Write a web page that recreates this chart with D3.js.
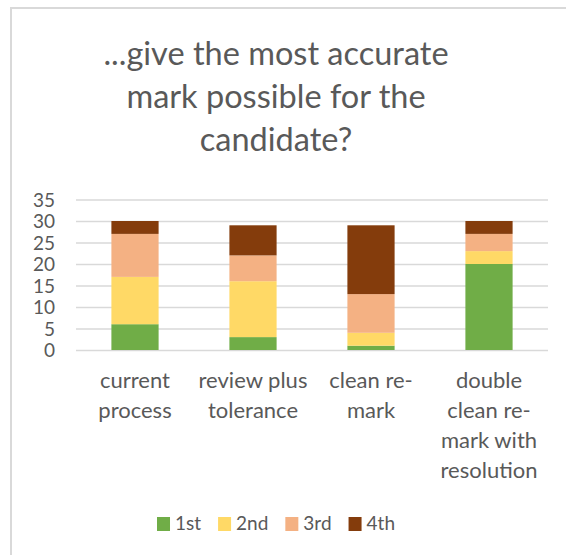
<!DOCTYPE html>
<html>
<head>
<meta charset="utf-8">
<script src="https://cdn.jsdelivr.net/npm/d3@7"></script>
<style>
  html, body { margin: 0; padding: 0; background: #fff; }
  svg text { font-family: Lato, "Open Sans", sans-serif; fill: #595959; }
</style>
</head>
<body>
<div id="chart"></div>
<script>
// ---------- data ----------
const categories = ['current process', 'review plus tolerance', 'clean re-mark', 'double clean re-mark with resolution'];
const categoryLines = [
  ['current', 'process'],
  ['review plus', 'tolerance'],
  ['clean re-', 'mark'],
  ['double', 'clean re-', 'mark with', 'resolution']
];
const seriesNames = ['1st', '2nd', '3rd', '4th'];
const first  = [6, 3, 1, 20];
const second = [11, 13, 3, 3];
const third  = [10, 6, 9, 4];
const fourth = [3, 7, 16, 3];
const yTicks = [0, 5, 10, 15, 20, 25, 30, 35];
const titleLines = ['...give the most accurate', 'mark possible for the', 'candidate?'];

const colors = ['#70ad47', '#ffd966', '#f4b183', '#843c0c'];

// ---------- setup ----------
const W = 566, H = 555;
const svg = d3.select('#chart').append('svg').attr('width', W).attr('height', H);

// chart frame (runs off the right / bottom of the capture)
svg.append('rect')
  .attr('x', 11).attr('y', 8).attr('width', 600).attr('height', 600)
  .attr('fill', '#fff').attr('stroke', '#d9d9d9').attr('stroke-width', 2);

const midX = 276;

/* -------- title -------- */
svg.append('g').selectAll('text').data(titleLines).enter().append('text')
  .attr('x', midX)
  .attr('y', (d, i) => 65 + i * 43)
  .attr('text-anchor', 'middle')
  .style('font-size', '32.5px')
  .text(d => d);

/* -------- scales -------- */
const x = d3.scaleBand().domain(categories).range([76, 548]).paddingInner(0.6).paddingOuter(0.3);
const y = d3.scaleLinear().domain([0, 35]).range([350, 199.5]);

/* -------- grid + y labels -------- */
const yAxisG = svg.append('g')
  .attr('transform', 'translate(76,0)')
  .call(d3.axisLeft(y).tickValues(yTicks).tickSize(-472).tickPadding(21));
yAxisG.select('.domain').remove();
yAxisG.selectAll('.tick line').attr('stroke', '#d9d9d9').attr('stroke-width', 1.3);
yAxisG.selectAll('.tick text')
  .style('font-size', '19px').attr('fill', '#595959').attr('dy', '0.36em')
  .style('font-family', 'Lato, sans-serif');

/* -------- stacked bars -------- */
const table = categories.map((c, i) => ({
  cat: c, '1st': first[i], '2nd': second[i], '3rd': third[i], '4th': fourth[i]
}));
const stacked = d3.stack().keys(seriesNames)(table);

svg.append('g').selectAll('g').data(stacked).enter().append('g')
  .attr('fill', (d, i) => colors[i])
  .selectAll('rect').data(d => d).enter().append('rect')
  .attr('x', d => x(d.data.cat))
  .attr('y', d => y(d[1]))
  .attr('width', x.bandwidth())
  .attr('height', d => y(d[0]) - y(d[1]));

/* -------- x labels -------- */
const xl = svg.append('g').selectAll('text').data(categories).enter().append('text')
  .attr('text-anchor', 'middle')
  .style('font-size', '22px');
xl.each(function (d, i) {
  const cx = x(d) + x.bandwidth() / 2;
  d3.select(this).selectAll('tspan').data(categoryLines[i]).enter().append('tspan')
    .attr('x', cx)
    .attr('y', (l, j) => 388 + j * 30)
    .text(l => l);
});

/* -------- legend -------- */
const legend = svg.append('g');
const items = legend.selectAll('g').data(seriesNames).enter().append('g');
items.append('rect').attr('width', 13).attr('height', 14).attr('y', 517)
  .attr('fill', (d, i) => colors[i]);
items.append('text').attr('x', 18).attr('y', 530).style('font-size', '19px').text(d => d);
let cur = 0;
const offs = [];
items.each(function () {
  offs.push(cur);
  cur += 18 + this.querySelector('text').getComputedTextLength() + 17;
});
const total = cur - 17;
items.attr('transform', (d, i) => `translate(${midX - total / 2 + offs[i]},0)`);
</script>
</body>
</html>
